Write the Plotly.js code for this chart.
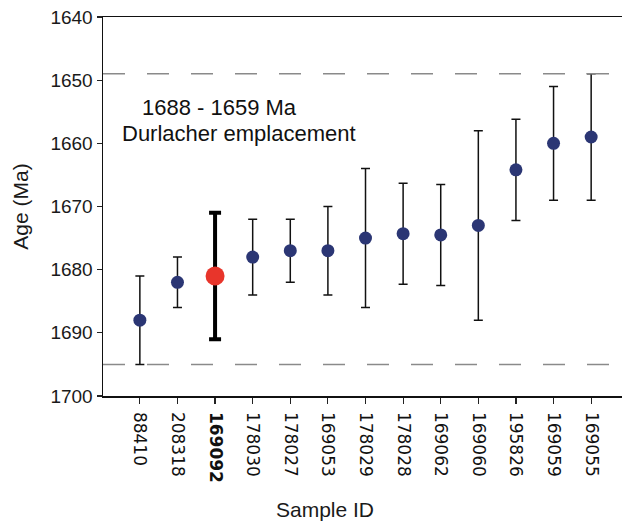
<!DOCTYPE html>
<html>
<head>
<meta charset="utf-8">
<script src="https://cdn.plot.ly/plotly-3.0.1.min.js"></script>
<style>html,body{margin:0;padding:0;background:#fff;}#chart{width:622px;height:523px;}</style>
</head>
<body>
<div id="chart"></div>
<script>
const samples = ['88410','208318','169092','178030','178027','169053','178029','178028','169062','169060','195826','169059','169055'];
const ages    = [1688, 1682, 1681, 1678, 1677, 1677, 1675, 1674.3, 1674.5, 1673, 1664.2, 1660, 1659];
const errOlder   = [7, 4, 10, 6, 5, 7, 11, 8, 8, 15, 8, 9, 10];
const errYounger = [7, 4, 10, 6, 5, 7, 11, 8, 8, 15, 8, 9, 10];
const highlight = '169092';
const bandLimits = [1649, 1695];
const yTicks = [1640, 1650, 1660, 1670, 1680, 1690, 1700];

const idxMain = samples.map((s,i)=>i).filter(i=>samples[i]!==highlight);
const idxHi = samples.map((s,i)=>i).filter(i=>samples[i]===highlight);
const pick = (arr, idx) => idx.map(i=>arr[i]);

const traceMain = {
  type:'scatter', mode:'markers',
  x: pick(samples, idxMain), y: pick(ages, idxMain),
  marker:{color:'#2b3674', size:13},
  error_y:{type:'data', symmetric:false, array: pick(errOlder, idxMain), arrayminus: pick(errYounger, idxMain),
           color:'#111', thickness:1.5, width:4.5},
  showlegend:false, hoverinfo:'x+y'
};
const traceHi = {
  type:'scatter', mode:'markers',
  x: pick(samples, idxHi), y: pick(ages, idxHi),
  marker:{color:'#e8352b', size:19},
  error_y:{type:'data', symmetric:false, array: pick(errOlder, idxHi), arrayminus: pick(errYounger, idxHi),
           color:'#000', thickness:4, width:6},
  showlegend:false, hoverinfo:'x+y'
};

const ticktext = samples.map(s => s===highlight ? '<b>'+s+'</b>' : s);

const layout = {
  width:622, height:523,
  margin:{l:103, r:0, t:17, b:127},
  paper_bgcolor:'#fff', plot_bgcolor:'#fff',
  font:{family:'Liberation Sans, Arial, sans-serif', color:'#1a1a1a'},
  xaxis:{
    type:'category', categoryorder:'array', categoryarray:samples,
    tickmode:'array', tickvals:samples, ticktext:ticktext,
    range:[-0.98, 12.82],
    tickangle:90, tickfont:{family:'DejaVu Sans', size:17, color:'#111'},
    ticklabelstandoff:5,
    ticks:'outside', ticklen:6, tickwidth:1.2, tickcolor:'#222',
    showline:true, linecolor:'#111', linewidth:1.5, mirror:true,
    showgrid:false, zeroline:false
  },
  yaxis:{
    range:[1700, 1640], tickmode:'array', tickvals:yTicks,
    tickfont:{family:'Liberation Sans, Arial', size:19, color:'#1a1a1a'},
    ticks:'outside', ticklen:5, tickwidth:1.2, tickcolor:'#222',
    showline:true, linecolor:'#111', linewidth:1.5,
    showgrid:false, zeroline:false,
    title:{text:'Age (Ma)', font:{size:21, color:'#1a1a1a'}, standoff:16}
  },
  shapes: bandLimits.map(v => ({
    type:'line', xref:'paper', x0:0, x1:1, yref:'y', y0:v, y1:v,
    line:{color:'#8a8a8a', width:1.5, dash:'22px,22px'}
  })),
  annotations:[
    {text:'1688 - 1659 Ma', xref:'paper', yref:'paper', x:(219-103)/519, y:1-(107-17)/379,
     xanchor:'center', yanchor:'middle', showarrow:false, font:{size:22, color:'#111'}},
    {text:'Durlacher emplacement', xref:'paper', yref:'paper', x:(239-103)/519, y:1-(133-17)/379,
     xanchor:'center', yanchor:'middle', showarrow:false, font:{size:22, color:'#111'}},
    {text:'Sample ID', xref:'paper', yref:'paper', x:(325-103)/519, y:1-(509-17)/379,
     xanchor:'center', yanchor:'middle', showarrow:false, borderpad:0, font:{size:21, color:'#1a1a1a'}}
  ]
};

Plotly.newPlot('chart', [traceMain, traceHi], layout, {displayModeBar:false, staticPlot:true});
</script>
</body>
</html>
